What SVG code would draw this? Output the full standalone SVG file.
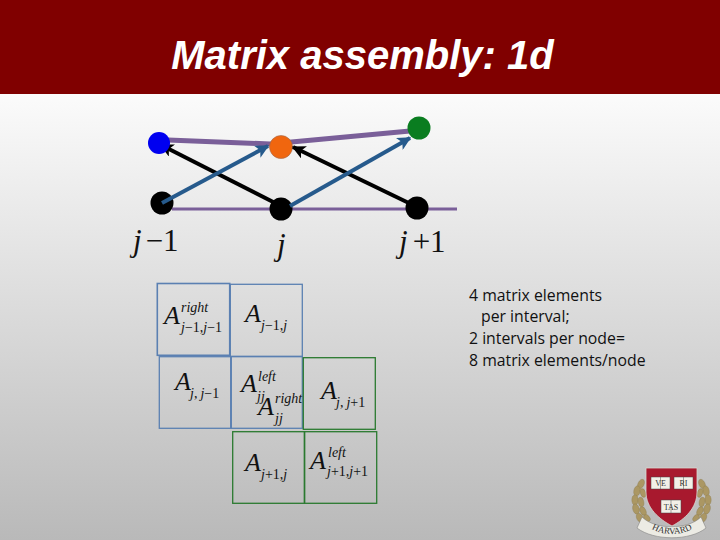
<svg xmlns="http://www.w3.org/2000/svg" width="720" height="540" viewBox="0 0 720 540">
<defs>
<linearGradient id="bg" x1="0" y1="0" x2="0" y2="1"><stop offset="0" stop-color="#fbfbfb"/><stop offset="1" stop-color="#b9b9b9"/></linearGradient>
<marker id="ab" viewBox="0 0 10 10" refX="9" refY="5" markerWidth="3.4" markerHeight="3.4" orient="auto"><path d="M0 0L10 5L0 10L2.5 5Z" fill="#265a8c"/></marker>
<marker id="ak" viewBox="0 0 10 10" refX="9" refY="5" markerWidth="3.4" markerHeight="3.4" orient="auto"><path d="M0 0L10 5L0 10L2.5 5Z" fill="#000"/></marker>
<g id="wreath">
<ellipse cx="641" cy="484" rx="3" ry="5" transform="rotate(25 641 484)"/>
<ellipse cx="637" cy="491" rx="3.2" ry="5.2" transform="rotate(10 637 491)"/>
<ellipse cx="643" cy="493" rx="2.6" ry="4.5" transform="rotate(-20 643 493)"/>
<ellipse cx="635" cy="500" rx="3.2" ry="5.2"/>
<ellipse cx="641" cy="502" rx="2.8" ry="4.8" transform="rotate(-10 641 502)"/>
<ellipse cx="636" cy="509" rx="3.2" ry="5.2" transform="rotate(-15 636 509)"/>
<ellipse cx="643" cy="511" rx="2.8" ry="4.6" transform="rotate(-25 643 511)"/>
<ellipse cx="640" cy="518" rx="3.2" ry="5" transform="rotate(-30 640 518)"/>
<ellipse cx="647" cy="518" rx="2.6" ry="4" transform="rotate(-40 647 518)"/>
</g>
</defs>
<style>
.title{font:italic bold 40px "Liberation Sans",Arial,sans-serif;fill:#fff;text-anchor:middle}
.body{font:15.8px "Open Sans","Noto Sans",sans-serif;fill:#111}
.m{font-family:"Liberation Serif","Times New Roman",serif;font-style:italic;fill:#111}
.a{font-size:26px}.s{font-size:14px}.l{font-size:31px}
.up{font-style:normal}
.bs{fill:none;stroke:#5b80b2;stroke-width:1.3}
.gs{fill:none;stroke:#2a7a30;stroke-width:1.3}
.blue{fill:none;stroke:#265a8c;stroke-width:4;marker-end:url(#ab)}
.blk{fill:none;stroke:#000;stroke-width:4;marker-end:url(#ak)}
.pur{fill:none;stroke:#7a5f99}
.lf{fill:#ab9763;stroke:#8d7d50;stroke-width:0.4}
</style>
<rect x="0" y="94" width="720" height="446" fill="url(#bg)"/>
<rect x="0" y="0" width="720" height="94" fill="#800000"/>
<text class="title" x="362.5" y="69">Matrix assembly: 1d</text>
<g id="rails">
<path class="pur" stroke-width="5" d="M168 140L270 144L410 131"/>
<path class="pur" stroke-width="3" d="M172 209L457 209"/>
</g>
<g id="node-orange"><circle cx="281" cy="147" r="11.5" fill="#f0660f" stroke="#a06a50" stroke-width="0.6"/></g>
<g id="node-green"><circle cx="419" cy="128" r="11.5" fill="#0a7d20"/></g>
<g id="node-black-1"><circle cx="162" cy="203" r="11.5" fill="#000"/></g>
<g id="node-black-2"><circle cx="281" cy="209" r="11.5" fill="#000"/></g>
<g id="node-black-3"><circle cx="417" cy="208" r="11.5" fill="#000"/></g>
<g id="connectors">
<line class="blk" x1="281" y1="206" x2="161" y2="145"/>
<line class="blk" x1="415" y1="206" x2="293" y2="147"/>
<line class="blue" x1="162" y1="203" x2="268" y2="146"/>
<line class="blue" x1="290" y1="206" x2="410" y2="138"/>
</g>
<g id="node-blue"><circle cx="159" cy="143" r="11" fill="#0000f0"/></g>
<g id="labels">
<text class="m l" x="133" y="251">j<tspan class="up" dx="4">−1</tspan></text>
<text class="m l" x="277" y="255">j</text>
<text class="m l" x="399" y="252">j<tspan class="up" dx="5">+1</tspan></text>
</g>
<g id="cell-1"><rect class="bs" x="157.3" y="283.5" width="72.4" height="71.8" style="stroke-width:1.6"/>
<text class="m a" x="164" y="324">A</text><text class="m s" x="181" y="312">right</text><text class="m s" x="181" y="332">j<tspan class="up">−1,</tspan>j<tspan class="up">−1</tspan></text></g>
<g id="cell-2"><rect class="bs" x="230.3" y="284.3" width="72" height="72"/>
<text class="m a" x="245" y="322">A</text><text class="m s" x="261" y="330">j<tspan class="up">−1,</tspan>j</text></g>
<g id="cell-3"><rect class="bs" x="159.3" y="356.7" width="71.4" height="71.6"/>
<text class="m a" x="175" y="390">A</text><text class="m s" x="190" y="398">j<tspan class="up">,</tspan><tspan dx="3">j</tspan><tspan class="up">−1</tspan></text></g>
<g id="cell-4"><rect class="bs" x="231.3" y="356.7" width="71" height="71.6"/>
<text class="m a" x="241" y="392">A</text><text class="m s" x="258" y="381">left</text><text class="m s" x="257" y="401">jj</text>
<text class="m a" x="258" y="415">A</text><text class="m s" x="275" y="403">right</text><text class="m s" x="275" y="423">jj</text></g>
<g id="cell-5"><rect class="gs" x="303.3" y="357.7" width="72" height="71.6"/>
<text class="m a" x="321" y="399">A</text><text class="m s" x="336" y="407">j<tspan class="up">,</tspan><tspan dx="3">j</tspan><tspan class="up">+1</tspan></text></g>
<g id="cell-6"><rect class="gs" x="232.7" y="431.7" width="71.6" height="71.6"/>
<text class="m a" x="245" y="471">A</text><text class="m s" x="261" y="479">j<tspan class="up">+1,</tspan>j</text></g>
<g id="cell-7"><rect class="gs" x="304.7" y="431.7" width="72" height="71.6"/>
<text class="m a" x="310" y="469">A</text><text class="m s" x="328" y="457">left</text><text class="m s" x="327" y="476">j<tspan class="up">+1,</tspan>j<tspan class="up">+1</tspan></text></g>
<g id="note">
<text class="body" x="469" y="301">4 matrix elements</text>
<text class="body" x="481" y="322">per interval;</text>
<text class="body" x="469" y="344">2 intervals per node=</text>
<text class="body" x="469" y="366">8 matrix elements/node</text>
</g>
<g id="crest">
<g class="lf"><use href="#wreath"/><use href="#wreath" transform="matrix(-1 0 0 1 1343 0)"/></g>
<path d="M646 468H697V492C697 508 685 519 672 526C659 519 646 508 646 492Z" fill="#a8192e" stroke="#d8d8d0" stroke-width="0.8"/>
<g fill="#f2f0e8" stroke="#444" stroke-width="0.5">
<rect x="651" y="477" width="19" height="12"/><rect x="674" y="477" width="19" height="12"/><rect x="661" y="500" width="20" height="13"/>
</g>
<path d="M660.5 477V489M683.5 477V489M671 500V513" stroke="#555" stroke-width="0.5"/>
<g font-family="Liberation Serif,serif" font-size="8" fill="#333" text-anchor="middle">
<text x="660.5" y="486">VE</text><text x="683.5" y="486">RI</text><text x="671" y="510">TAS</text>
</g>
<path d="M642 517C655 530 688 530 701 517L706 528C690 541 654 541 637 528Z" fill="#ecebe4" stroke="#777" stroke-width="0.5"/>
<path id="banner" d="M646 525C660 537 684 537 698 525" fill="none"/>
<text font-family="Liberation Serif,serif" font-size="9" fill="#333"><textPath href="#banner" startOffset="50%" text-anchor="middle">HARVARD</textPath></text>
</g>
</svg>
